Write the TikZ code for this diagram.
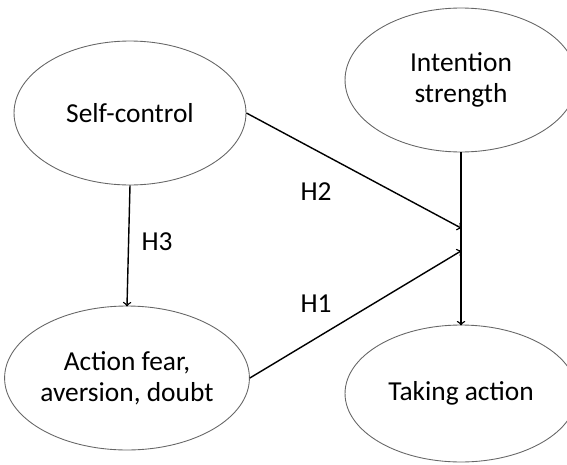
\documentclass[tikz,border=0pt]{standalone}
\usepackage{fontspec}
\setmainfont{Carlito}
\usetikzlibrary{shapes.geometric,arrows}

\begin{document}
\begin{tikzpicture}[x=0.02cm, y=0.02cm,
  construct/.style={draw=gray!80!black, line width=0.5pt, ellipse, inner sep=0pt,
    minimum width=4.64cm, minimum height=2.88cm, align=center,
    font=\fontsize{15.6}{17.5}\selectfont},
  path/.style={->, >=to, line width=0.8pt, shorten >=-0.5pt},
  hyp/.style={draw=none, font=\fontsize{15.6}{17.5}\selectfont}]

\useasboundingbox (0, 0) rectangle (567, 464);

% Constructs
\node[construct] (selfc) at (130, 351) {Self-control};
\node[construct] (intent) at (461, 384) {Intention\\strength};
\node[construct] (fear) at (127, 86) {Action fear,\\aversion, doubt};
\node[construct, minimum height=2.74cm] (take) at (461, 70.5) {Taking action};

% Points where the moderated paths meet
\coordinate (j2) at (461, 236);
\coordinate (j1) at (461, 213);

% Paths
\draw[path] (intent.south) -- (take.north);
\draw[path] (selfc.east) -- (j2);
\draw[path] (fear.east) -- (j1);
\draw[path] (selfc.south) -- (fear.north);

% Hypotheses
\node[hyp] (h2) at (316, 272) {H2};
\node[hyp] (h1) at (316, 160) {H1};
\node[hyp] (h3) at (157, 222) {H3};

\end{tikzpicture}
\end{document}
